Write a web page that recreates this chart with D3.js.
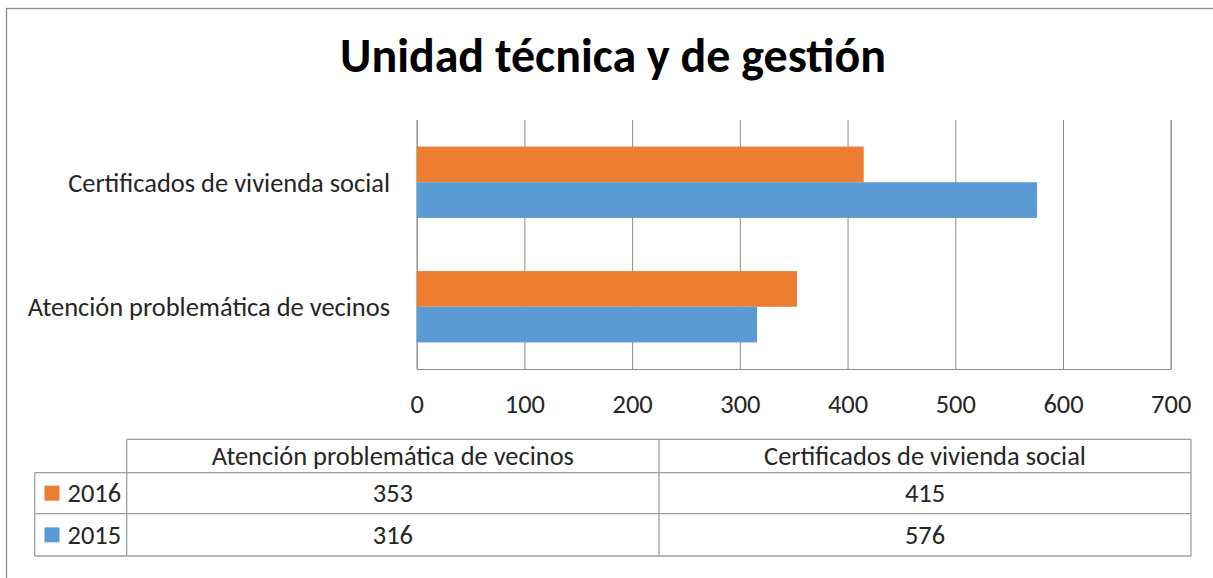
<!DOCTYPE html>
<html>
<head>
<meta charset="utf-8">
<script src="https://cdn.jsdelivr.net/npm/d3@7"></script>
<style>
  html, body { margin: 0; padding: 0; background: #fff; }
  svg { display: block; }
  text { font-family: Carlito, Calibri, Lato, "Liberation Sans", sans-serif; fill: #262626; }
</style>
</head>
<body>
<svg id="chart" width="1213" height="578"></svg>
<script>
const title = "Unidad técnica y de gestión";
const categories = ["Certificados de vivienda social", "Atención problemática de vecinos"];
const tableCategories = ["Atención problemática de vecinos", "Certificados de vivienda social"];
const seriesNames = ["2016", "2015"];
const values2016 = [415, 353]; // by categories order
const values2015 = [576, 316];
const seriesColors = ["#ED7D31", "#5B9BD5"];
const xTicks = [0, 100, 200, 300, 400, 500, 600, 700];

const seriesValues = { "2016": values2016, "2015": values2015 };

const svg = d3.select("#chart");
const W = 1213, H = 578;
svg.append("rect").attr("width", W).attr("height", H).attr("fill", "#fff");

// outer chart border (cropped on right/bottom)
svg.append("rect")
  .attr("x", 6.5).attr("y", 8.5).attr("width", W + 20).attr("height", H + 20)
  .attr("fill", "none").attr("stroke", "#8a8a8a").attr("stroke-width", 1.3);

const plot = { left: 416.7, right: 1170.7, top: 120, bottom: 369 };

const x = d3.scaleLinear().domain([0, 700]).range([plot.left, plot.right]);
const y = d3.scaleBand().domain(categories).range([plot.top, plot.bottom])
  .paddingInner(0.427).paddingOuter(0.2135);
const ySub = d3.scaleBand().domain(seriesNames).range([0, y.bandwidth()]);

// font fitting helper
function fitSize(text, weight, targetWidth) {
  const t = svg.append("text").attr("font-size", 100).attr("font-weight", weight).text(text);
  const w = t.node().getComputedTextLength();
  t.remove();
  return 100 * targetWidth / w;
}
const fsBody = fitSize("Certificados de vivienda social", "normal", 322);
const fsTitle = fitSize(title, "bold", 546);

// Title
svg.append("text")
  .attr("x", 613).attr("y", 72)
  .attr("text-anchor", "middle")
  .attr("font-weight", "bold")
  .attr("font-size", fsTitle)
  .style("fill", "#000")
  .text(title);

// gridlines
const grid = svg.append("g").attr("transform", `translate(0,${plot.bottom})`)
  .call(d3.axisBottom(x).tickValues(xTicks).tickSize(-(plot.bottom - plot.top)).tickFormat(""));
grid.select(".domain").attr("stroke", "#8a8a8a");
grid.selectAll(".tick line").attr("stroke", "#8a8a8a").attr("stroke-width", 1);

// bars
const groups = svg.append("g").selectAll("g").data(categories).join("g")
  .attr("transform", d => `translate(0,${y(d)})`);
groups.selectAll("rect")
  .data((c, i) => seriesNames.map((s, j) => ({ s, v: seriesValues[s][i], color: seriesColors[j] })))
  .join("rect")
  .attr("x", x(0))
  .attr("y", d => ySub(d.s))
  .attr("width", d => x(d.v) - x(0))
  .attr("height", ySub.bandwidth())
  .attr("fill", d => d.color);

// x tick labels
const xAxis = svg.append("g").attr("transform", `translate(0,${plot.bottom})`)
  .call(d3.axisBottom(x).tickValues(xTicks).tickSize(0).tickPadding(0));
xAxis.select(".domain").remove();
xAxis.selectAll("text")
  .attr("y", 44).attr("dy", 0)
  .attr("font-size", fsBody)
  .style("font-family", null)
  .attr("font-family", null)
  .style("fill", "#262626");

// category labels
svg.append("g").selectAll("text").data(categories).join("text")
  .attr("x", 390)
  .attr("y", d => y(d) + y.bandwidth() / 2)
  .attr("dy", "0.35em")
  .attr("text-anchor", "end")
  .attr("font-size", fsBody)
  .text(d => d);

// data table
const colX = [34.7, 126.7, 659, 1191];
const rowY = [439.3, 472.7, 513.7, 556];
const tbl = svg.append("g").attr("stroke", "#a0a0a0").attr("stroke-width", 1.3);
tbl.append("line").attr("x1", colX[1]).attr("x2", colX[3]).attr("y1", rowY[0]).attr("y2", rowY[0]);
rowY.slice(1).forEach(yy => tbl.append("line").attr("x1", colX[0]).attr("x2", colX[3]).attr("y1", yy).attr("y2", yy));
tbl.append("line").attr("x1", colX[0]).attr("x2", colX[0]).attr("y1", rowY[1]).attr("y2", rowY[3]);
colX.slice(1).forEach(xx => tbl.append("line").attr("x1", xx).attr("x2", xx).attr("y1", rowY[0]).attr("y2", rowY[3]));

// header
tableCategories.forEach((c, i) => {
  svg.append("text")
    .attr("x", (colX[i + 1] + colX[i + 2]) / 2)
    .attr("y", (rowY[0] + rowY[1]) / 2)
    .attr("dy", "0.35em")
    .attr("text-anchor", "middle")
    .attr("font-size", fsBody)
    .text(c);
});
// rows
seriesNames.forEach((s, r) => {
  const cy = (rowY[r + 1] + rowY[r + 2]) / 2;
  svg.append("rect").attr("x", 44.5).attr("y", cy - 7.5).attr("width", 15).attr("height", 15)
    .attr("fill", seriesColors[r]);
  svg.append("text").attr("x", 67.5).attr("y", cy).attr("dy", "0.35em")
    .attr("font-size", fsBody).text(s);
  tableCategories.forEach((c, i) => {
    const v = seriesValues[s][categories.indexOf(c)];
    svg.append("text")
      .attr("x", (colX[i + 1] + colX[i + 2]) / 2)
      .attr("y", cy).attr("dy", "0.35em")
      .attr("text-anchor", "middle")
      .attr("font-size", fsBody)
      .text(v);
  });
});
</script>
</body>
</html>
